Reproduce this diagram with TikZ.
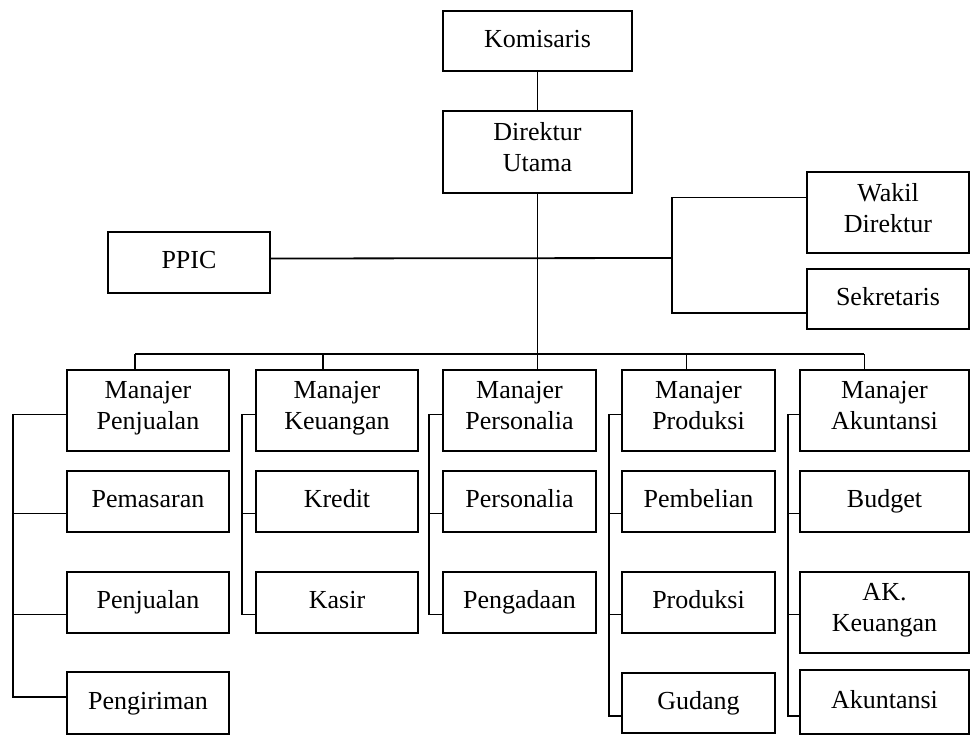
\documentclass[tikz,border=0pt]{standalone}
\usepackage{fontspec}
\setmainfont{Liberation Serif}
\begin{document}
\begin{tikzpicture}[x=1pt,y=-1pt,
    box/.style={draw, line width=1.8pt, anchor=north west, align=center,
              inner sep=0pt, outer sep=0pt, font=\fontsize{26}{31}\selectfont,
              execute at begin node=\strut, execute at end node=\strut},
    link/.style={line width=1.8pt}]
        \useasboundingbox (0,0) rectangle (971,736);
        % top
        \node[box, minimum width=189pt, minimum height=60pt] (kom) at (443,11) {Komisaris};
        \node[box, minimum width=189pt, minimum height=82pt] (dir) at (443,111) {Direktur\\Utama};
        \node[box, minimum width=162pt, minimum height=61pt] (ppic) at (108,232) {PPIC};
        \node[box, minimum width=162pt, minimum height=81pt] (wkl) at (807,172) {Wakil\\Direktur};
        \node[box, minimum width=162pt, minimum height=60pt] (skr) at (807,269) {Sekretaris};
        % managers
        \foreach \n/\x/\w/\t in {mpj/67/162/{Manajer\\Penjualan}, mku/256/162/{Manajer\\Keuangan},
            mps/443/153/{Manajer\\Personalia}, mpr/622/153/{Manajer\\Produksi},
            mak/800/169/{Manajer\\Akuntansi}}{
            \node[box, minimum width=\w pt, minimum height=81pt] (\n) at (\x,370) {\t};
        };
        % staff
        \node[box, minimum width=162pt, minimum height=61pt] (pms) at (67,471) {Pemasaran};
        \node[box, minimum width=162pt, minimum height=61pt] (pjl) at (67,572) {Penjualan};
        \node[box, minimum width=162pt, minimum height=62pt] (pgr) at (67,672) {Pengiriman};
        \node[box, minimum width=162pt, minimum height=61pt] (krd) at (256,471) {Kredit};
        \node[box, minimum width=162pt, minimum height=61pt] (ksr) at (256,572) {Kasir};
        \node[box, minimum width=153pt, minimum height=61pt] (prs) at (443,471) {Personalia};
        \node[box, minimum width=153pt, minimum height=61pt] (pgd) at (443,572) {Pengadaan};
        \node[box, minimum width=153pt, minimum height=61pt] (pbl) at (622,471) {Pembelian};
        \node[box, minimum width=153pt, minimum height=61pt] (prd) at (622,572) {Produksi};
        \node[box, minimum width=153pt, minimum height=60pt] (gdg) at (622,673) {Gudang};
        \node[box, minimum width=169pt, minimum height=61pt] (bdg) at (800,471) {Budget};
        \node[box, minimum width=169pt, minimum height=81pt] (akk) at (800,572) {AK.\\Keuangan};
        \node[box, minimum width=169pt, minimum height=64pt] (aku) at (800,670) {Akuntansi};

        \coordinate (busL) at (135,354);
        \coordinate (busR) at (864,354);
        \coordinate (bwd) at (672,258);

        \draw[link] (kom) -- (dir);
        \draw[link] (dir.south) -- (dir.south |- mps.north);
        \draw[link] (busL) -- (busR);
        \foreach \n/\d in {mpj/-13, mku/-14, mpr/-12, mak/-20}{
            \draw[link] ([xshift=\d pt]\n.north) -- ([xshift=\d pt]\n.north |- busL);
        };
        \draw[link] ([yshift=4pt]ppic.east) -- (bwd);
        \draw[link] ([yshift=15pt]wkl.west) -| ([yshift=-14pt]skr.west -| bwd) -- ([yshift=-14pt]skr.west);

        % brackets
        \foreach \m/\b/\last/\s in {mpj/13/pgr/6, mku/242/ksr/-12, mps/429/pgd/-12,
            mpr/609/gdg/-13, mak/788/aku/-14}{
            \coordinate (b\m) at (\b,0);
            \draw[link] ([yshift=-4pt]\m.west) -| ([yshift=\s pt]\last.west -| b\m) -- ([yshift=\s pt]\last.west);
        };
        \foreach \c/\m in {pms/mpj, pjl/mpj, krd/mku, prs/mps, pbl/mpr, prd/mpr, bdg/mak}{
            \draw[link] ([yshift=-12pt]\c.west -| b\m) -- ([yshift=-12pt]\c.west);
        };
        \draw[link] ([yshift=-2pt]akk.west -| bmak) -- ([yshift=-2pt]akk.west);
    \end{tikzpicture}
\end{document}
